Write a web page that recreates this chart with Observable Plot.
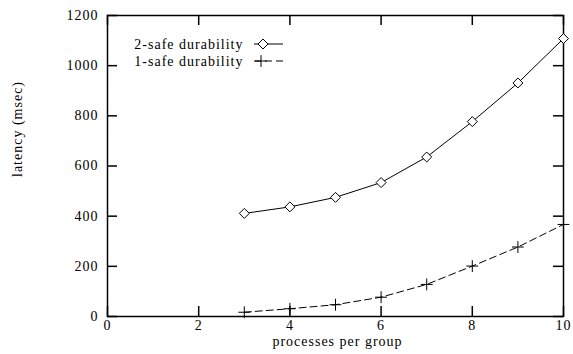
<!DOCTYPE html>
<html>
<head>
<meta charset="utf-8">
<script src="https://cdn.jsdelivr.net/npm/d3@7"></script>
<script src="https://cdn.jsdelivr.net/npm/@observablehq/plot@0.6"></script>
<style>
  html, body { margin: 0; padding: 0; background: #fff; }
  svg { display: block; }
  svg text { letter-spacing: 1px; }
</style>
</head>
<body>
<div id="chart"></div>
<script>
const processes = [3, 4, 5, 6, 7, 8, 9, 10];
const twoSafe = [411, 437, 475, 534, 636, 777, 931, 1108];
const oneSafe = [17, 31, 47, 77, 128, 201, 277, 367];
const seriesNames = ["2-safe durability", "1-safe durability"];
const xTicks = [0, 2, 4, 6, 8, 10];
const yTicks = [0, 200, 400, 600, 800, 1000, 1200];

const W = 573, H = 354;
const mL = 107, mR = 10, mT = 15, mB = 38;
const pw = W - mL - mR, ph = H - mT - mB;

const two = processes.map((p, i) => ({x: p, y: twoSafe[i]}));
const one = processes.map((p, i) => ({x: p, y: oneSafe[i]}));

const font = "Liberation Serif";
const fs = 14;

const plot = Plot.plot({
  width: W, height: H,
  marginLeft: mL, marginRight: mR, marginTop: mT, marginBottom: mB,
  style: {fontFamily: font, fontSize: fs + "px", background: "white", color: "black"},
  x: {domain: [0, 10]},
  y: {domain: [0, 1200]},
  marks: [
    Plot.axisX({ticks: xTicks, tickSize: 0, tickPadding: 4, tickFormat: d => String(d), label: null, fontSize: fs}),
    Plot.axisY({ticks: yTicks, tickSize: 0, tickPadding: 9, tickFormat: d => String(d), label: null, fontSize: fs}),
    Plot.tickX(xTicks, {x: d => d, stroke: "black", strokeWidth: 1.5, insetTop: ph - 10}),
    Plot.tickX(xTicks, {x: d => d, stroke: "black", strokeWidth: 1.5, insetBottom: ph - 10}),
    Plot.tickY(yTicks, {y: d => d, stroke: "black", strokeWidth: 1.5, insetRight: pw - 10}),
    Plot.tickY(yTicks, {y: d => d, stroke: "black", strokeWidth: 1.5, insetLeft: pw - 10}),
    Plot.frame({stroke: "black", strokeWidth: 1.5}),
    Plot.line(two, {x: "x", y: "y", stroke: "black", strokeWidth: 1}),
    Plot.line(one, {x: "x", y: "y", stroke: "black", strokeWidth: 1, strokeDasharray: "7,4"}),
    Plot.dot(two, {x: "x", y: "y", symbol: "diamond2", r: 4.5, stroke: "black", fill: "white", strokeWidth: 1}),
    Plot.dot(one, {x: "x", y: "y", symbol: "plus", r: 3.9, stroke: "black", strokeWidth: 1}),
    Plot.text(["processes per group"], {frameAnchor: "bottom", dy: 29, dx: 2, text: d => d, fontSize: fs}),
    Plot.text(["latency (msec)"], {frameAnchor: "left", dx: -90, dy: 11, rotate: -90, text: d => d, fontSize: fs}),
    // legend
    Plot.text([seriesNames[0]], {frameAnchor: "top-left", dx: 243 - mL, dy: 44 - mT, text: d => d, textAnchor: "end", lineAnchor: "middle", fontSize: fs}),
    Plot.text([seriesNames[1]], {frameAnchor: "top-left", dx: 243 - mL, dy: 61 - mT, text: d => d, textAnchor: "end", lineAnchor: "middle", fontSize: fs})
  ]
});

// legend samples
const svg = d3.select(plot);
const lg = svg.append("g").attr("fill", "none").attr("stroke", "black");
lg.append("line").attr("x1", 254).attr("x2", 283).attr("y1", 44).attr("y2", 44).attr("stroke-width", 1);
lg.append("path").attr("transform", "translate(263,44)").attr("d", d3.symbol(d3.symbolDiamond2, Math.PI * 4.5 * 4.5)()).attr("fill", "white");
lg.append("line").attr("x1", 254).attr("x2", 283).attr("y1", 61).attr("y2", 61).attr("stroke-width", 1).attr("stroke-dasharray", "7,4");
lg.append("path").attr("transform", "translate(261,61)").attr("d", d3.symbol(d3.symbolPlus, Math.PI * 3.9 * 3.9)());

document.getElementById("chart").appendChild(plot);
</script>
</body>
</html>
